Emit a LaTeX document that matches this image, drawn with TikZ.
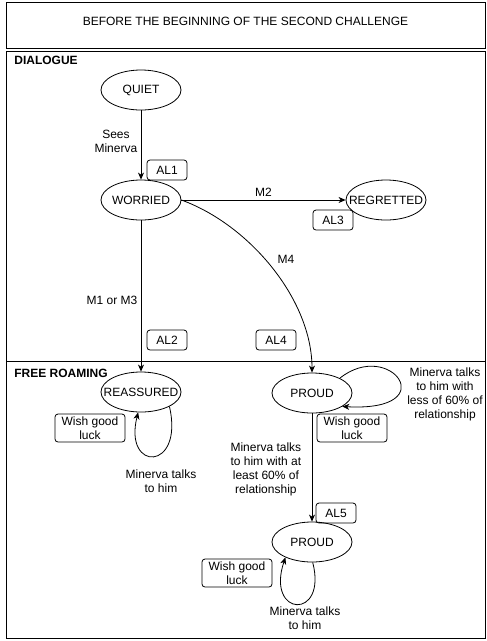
\documentclass[tikz,border=0pt]{standalone}
\usepackage{fontspec}
\setmainfont{Liberation Sans}
\usepackage{tikz}
\usetikzlibrary{arrows}
\usetikzlibrary{arrows.meta}
\usetikzlibrary{shapes.geometric}
\newcommand{\sname}[1]{\makebox[0pt]{#1}}

\begin{document}
\begin{tikzpicture}[x=1pt,y=-1pt,line width=0.8pt,font=\fontsize{12}{14}\selectfont,
  >={Stealth[length=7pt,width=6pt,inset=2pt]},
  state/.style={ellipse,draw,minimum width=80pt,minimum height=40pt,inner sep=0pt},
  tag/.style={draw,rounded corners=3pt,minimum width=40pt,minimum height=20pt,inner sep=0pt},
  luck/.style={draw,rounded corners=3pt,minimum width=70pt,minimum height=28pt,inner sep=0pt,align=center},
  lbl/.style={align=center},
  frame/.style={draw}]
  \useasboundingbox (0,0) rectangle (487,641);
  % frames
  \draw[frame] (6,2) rectangle (485,48);
  \draw[frame] (6,51) rectangle (485,361);
  \draw[frame] (6,361) rectangle (485,638);
  \node (title) at (245.5,21) {BEFORE THE BEGINNING OF THE SECOND CHALLENGE};
  \node[anchor=west,inner sep=0pt,font=\fontsize{12}{14}\selectfont\bfseries] (dialogue) at (14,60) {DIALOGUE};
  \node[anchor=west,inner sep=0pt,font=\fontsize{12}{14}\selectfont\bfseries] (roaming) at (14,373) {FREE ROAMING};
  % states
  \node[state] (quiet) at (141,90) {\sname{QUIET}};
  \node[state] (worried) at (141,200) {\sname{WORRIED}};
  \node[state] (regretted) at (386,200) {\sname{REGRETTED}};
  \node[state] (reassured) at (141,392) {\sname{REASSURED}};
  \node[state] (proud) at (312,393) {\sname{PROUD}};
  \node[state] (proudend) at (312,542) {\sname{PROUD}};
  % animation tags
  \node[tag] (al1) at (167,170) {AL1};
  \node[tag] (al2) at (167,340) {AL2};
  \node[tag] (al3) at (333,220) {AL3};
  \node[tag] (al4) at (276,340) {AL4};
  \node[tag] (al5) at (336,513) {AL5};
  \node[luck] (luck1) at (90,428) {Wish good\\luck};
  \node[luck] (luck2) at (352,428) {Wish good\\luck};
  \node[luck] (luck3) at (237,573) {Wish good\\luck};
  % transitions
  \path[->]
    (quiet) edge node [lbl,left,pos=0.45] {Sees\\Minerva} (worried)
    (worried) edge node [above] {M2} (regretted)
    (worried) edge node [left,pos=0.53] {M1 or M3} (reassured)
    (proud) edge node [lbl,left=7pt,pos=0.52] {Minerva talks\\to him with at\\least 60\% of\\relationship} (proudend);
  \draw[->] (worried.east) .. controls (250,225) and (312,300) .. node[pos=0.45,right=9pt] {M4} (proud.north);
  % loops
  \draw[->] (reassured.-27) .. controls +(15,65) and +(-15,60) .. (reassured.-98);
  \draw[->] (proud.28) .. controls (390,338) and (445,412) .. (proud.-24);
  \draw[->] (proudend.-88) .. controls +(15,58) and +(-20,60) .. (proudend.-150);
  \node[lbl] (talk1) at (161,481) {Minerva talks\\to him};
  \node[lbl] (talk2) at (445,394) {Minerva talks\\to him with\\less of 60\% of\\relationship};
  \node[lbl] (talk3) at (305,618) {Minerva talks\\to him};
\end{tikzpicture}
\end{document}
